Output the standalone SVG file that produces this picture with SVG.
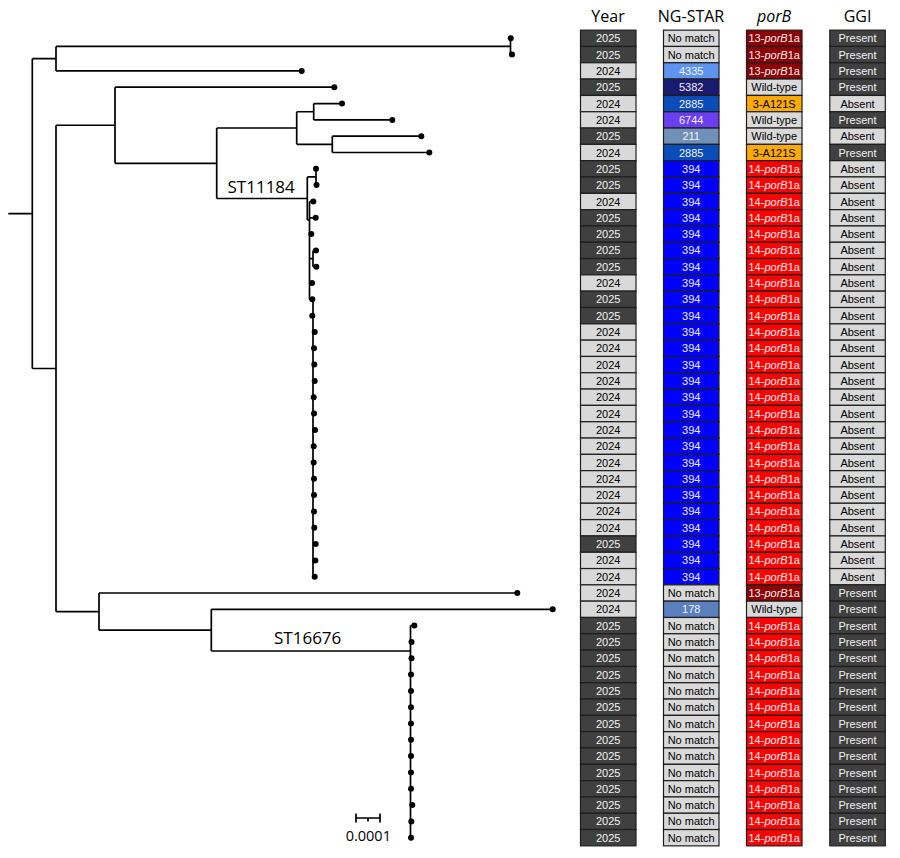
<svg xmlns="http://www.w3.org/2000/svg" xmlns:xlink="http://www.w3.org/1999/xlink" width="900" height="858" viewBox="0 0 900 858">
<style>
.bg{fill:#fff}
use{stroke:#1e1e1e;stroke-width:1.2}
.dk{fill:#404040}.lt{fill:#d9d9d9}
.s394{fill:#0000ff}.s4335{fill:#5e94f0}.s5382{fill:#1a1a70}.s2885{fill:#0a4cb8}.s6744{fill:#6b3ef0}.s211{fill:#7090b8}.s178{fill:#5b80c0}
.p13{fill:#8c0000}.p14{fill:#ff0000}.p3{fill:#ffaa00}
.t{font-family:"Liberation Sans",Arial,sans-serif;font-size:11px;text-anchor:middle}
.w{fill:#f2f2f2}.b{fill:#000}.i{font-style:italic}
.h{font-family:"Open Sans","Liberation Sans",sans-serif;font-size:16px;text-anchor:middle;fill:#000}
.lab{font-family:"Open Sans","Liberation Sans",sans-serif;font-size:17px;fill:#000}
.sc{font-family:"Open Sans","Liberation Sans",sans-serif;font-size:14.5px;fill:#000;text-anchor:middle}
.tree{fill:none;stroke:#000;stroke-width:1.7}
.dots circle{fill:#000}
</style>
<defs>
<rect id="cY" x="580.5" y="-8.15" width="55.5" height="16.3"/>
<rect id="cN" x="663.5" y="-8.15" width="55.5" height="16.3"/>
<rect id="cP" x="746.5" y="-8.15" width="55.5" height="16.3"/>
<rect id="cG" x="829.8" y="-8.15" width="55.5" height="16.3"/>
</defs>
<rect class="bg" x="0" y="0" width="900" height="858"/>

<g id="headers">
<text class="h" x="608" y="21.7">Year</text>
<text class="h" x="691" y="21.7">NG-STAR</text>
<text class="h i" x="774" y="21.7">porB</text>
<text class="h" x="857.5" y="21.7">GGI</text>
</g>

<g id="connectors" class="tree">
<path d="M8.3 213.6H32.3M32.3 58.7V368.5M32.3 58.7H56M32.3 368.5H56"/>
<path d="M56 46.45V70.9M56 46.45H510.5M56 70.9H301.7M510.5 38.3V54.6"/>
<path d="M56 125.25V611.65M56 125.25H115M56 611.65H99"/>
<path d="M115 87.2V163.3M115 87.2H334.3M115 163.3H216.7"/>
<path d="M216.7 128V198.5M216.7 128H296.7M216.7 198.5H307.3"/>
<path d="M296.7 111.75V144.35M296.7 111.75H313.7M296.7 144.35H332.3"/>
<path d="M313.7 103.6V119.9M313.7 103.6H342M313.7 119.9H392.3"/>
<path d="M332.3 136.2V152.5M332.3 136.2H421.3M332.3 152.5H429.3"/>
<path d="M307.3 176.95V220M307.3 176.95H316M316 168.8V185.1M307.3 220H309.5"/>
<path d="M309.5 201.5V299.3M309.5 201.5H313.3M309.5 217.8H315.7M309.5 234.1H311.3M309.5 258.55H313M313 250.4V266.7M313 250.4H316M313 266.7H316.3M309.5 283H312M309.5 299.3H313"/>
<path d="M313 299.3V576.7M313 315.7H312.3M313 544.1H315.7M313 560.4H315.3"/>
<path d="M99 593V630.15M99 593H517.3M99 630.15H211.3"/>
<path d="M211.3 609.3V651M211.3 609.3H552.7M211.3 651H410.5"/>
<path d="M410.5 625.6V837.7M410.5 625.6H414.3"/>
<path d="M356 818H380M356 813.5V822.5M380 813.5V822.5M368 818V821.5"/>
</g>

<g id="leaves" class="dots">
<circle cx="510.7" cy="38.3" r="3"/><circle cx="512" cy="54.6" r="3"/><circle cx="301.7" cy="70.9" r="3"/><circle cx="334.3" cy="87.2" r="3"/>
<circle cx="342" cy="103.6" r="3"/><circle cx="392.3" cy="119.9" r="3"/><circle cx="421.3" cy="136.2" r="3"/><circle cx="429.3" cy="152.5" r="3"/>
<circle cx="316" cy="168.8" r="3"/><circle cx="316.5" cy="185.1" r="3"/><circle cx="313.3" cy="201.5" r="3"/><circle cx="315.7" cy="217.8" r="3"/>
<circle cx="311.3" cy="234.1" r="3"/><circle cx="316" cy="250.4" r="3"/><circle cx="316.3" cy="266.7" r="3"/><circle cx="312" cy="283" r="3"/>
<circle cx="312.3" cy="299.3" r="3"/><circle cx="312.3" cy="315.7" r="3"/><circle cx="314.7" cy="332" r="3"/><circle cx="314" cy="348.3" r="3"/>
<circle cx="314.3" cy="364.6" r="3"/><circle cx="314.7" cy="380.9" r="3"/><circle cx="313.7" cy="397.2" r="3"/><circle cx="314" cy="413.5" r="3"/>
<circle cx="315" cy="429.9" r="3"/><circle cx="313.7" cy="446.2" r="3"/><circle cx="313.7" cy="462.5" r="3"/><circle cx="314" cy="478.8" r="3"/>
<circle cx="314" cy="495.1" r="3"/><circle cx="314" cy="511.4" r="3"/><circle cx="314.3" cy="527.8" r="3"/><circle cx="315.7" cy="544.1" r="3"/>
<circle cx="315.3" cy="560.4" r="3"/><circle cx="314.7" cy="576.7" r="3"/><circle cx="517.3" cy="593" r="3"/><circle cx="552.7" cy="609.3" r="3"/>
<circle cx="414.3" cy="625.6" r="3"/><circle cx="411.5" cy="641.9" r="3"/><circle cx="411.5" cy="658.3" r="3"/><circle cx="411" cy="674.6" r="3"/>
<circle cx="411" cy="690.9" r="3"/><circle cx="411" cy="707.2" r="3"/><circle cx="411" cy="723.5" r="3"/><circle cx="411" cy="739.8" r="3"/>
<circle cx="411" cy="756.1" r="3"/><circle cx="411" cy="772.5" r="3"/><circle cx="411" cy="788.8" r="3"/><circle cx="412.3" cy="805.1" r="3"/>
<circle cx="411.3" cy="821.4" r="3"/><circle cx="411" cy="837.7" r="3"/>
</g>

<g id="clade-labels">
<text class="lab" x="227.5" y="192.5">ST11184</text>
<text class="lab" x="274" y="644">ST16676</text>
</g>
<g id="scale-bar">
<text class="sc" x="368.3" y="840.5">0.0001</text>
</g>

<g id="table">
<g id="row1" transform="translate(0 38.3)"><use href="#cY" class="dk"/><text class="t w" x="608.2" y="4">2025</text><use href="#cN" class="lt"/><text class="t b" x="691.2" y="4">No match</text><use href="#cP" class="p13"/><text class="t w" x="774.2" y="4">13-<tspan class="i">porB</tspan>1a</text><use href="#cG" class="dk"/><text class="t w" x="857.5" y="4">Present</text></g>
<g id="row2" transform="translate(0 54.6)"><use href="#cY" class="dk"/><text class="t w" x="608.2" y="4">2025</text><use href="#cN" class="lt"/><text class="t b" x="691.2" y="4">No match</text><use href="#cP" class="p13"/><text class="t w" x="774.2" y="4">13-<tspan class="i">porB</tspan>1a</text><use href="#cG" class="dk"/><text class="t w" x="857.5" y="4">Present</text></g>
<g id="row3" transform="translate(0 70.9)"><use href="#cY" class="lt"/><text class="t b" x="608.2" y="4">2024</text><use href="#cN" class="s4335"/><text class="t w" x="691.2" y="4">4335</text><use href="#cP" class="p13"/><text class="t w" x="774.2" y="4">13-<tspan class="i">porB</tspan>1a</text><use href="#cG" class="dk"/><text class="t w" x="857.5" y="4">Present</text></g>
<g id="row4" transform="translate(0 87.2)"><use href="#cY" class="dk"/><text class="t w" x="608.2" y="4">2025</text><use href="#cN" class="s5382"/><text class="t w" x="691.2" y="4">5382</text><use href="#cP" class="lt"/><text class="t b" x="774.2" y="4">Wild-type</text><use href="#cG" class="dk"/><text class="t w" x="857.5" y="4">Present</text></g>
<g id="row5" transform="translate(0 103.6)"><use href="#cY" class="lt"/><text class="t b" x="608.2" y="4">2024</text><use href="#cN" class="s2885"/><text class="t w" x="691.2" y="4">2885</text><use href="#cP" class="p3"/><text class="t b" x="774.2" y="4">3-A121S</text><use href="#cG" class="lt"/><text class="t b" x="857.5" y="4">Absent</text></g>
<g id="row6" transform="translate(0 119.9)"><use href="#cY" class="lt"/><text class="t b" x="608.2" y="4">2024</text><use href="#cN" class="s6744"/><text class="t w" x="691.2" y="4">6744</text><use href="#cP" class="lt"/><text class="t b" x="774.2" y="4">Wild-type</text><use href="#cG" class="dk"/><text class="t w" x="857.5" y="4">Present</text></g>
<g id="row7" transform="translate(0 136.2)"><use href="#cY" class="dk"/><text class="t w" x="608.2" y="4">2025</text><use href="#cN" class="s211"/><text class="t w" x="691.2" y="4">211</text><use href="#cP" class="lt"/><text class="t b" x="774.2" y="4">Wild-type</text><use href="#cG" class="lt"/><text class="t b" x="857.5" y="4">Absent</text></g>
<g id="row8" transform="translate(0 152.5)"><use href="#cY" class="lt"/><text class="t b" x="608.2" y="4">2024</text><use href="#cN" class="s2885"/><text class="t w" x="691.2" y="4">2885</text><use href="#cP" class="p3"/><text class="t b" x="774.2" y="4">3-A121S</text><use href="#cG" class="dk"/><text class="t w" x="857.5" y="4">Present</text></g>
<g id="row9" transform="translate(0 168.8)"><use href="#cY" class="dk"/><text class="t w" x="608.2" y="4">2025</text><use href="#cN" class="s394"/><text class="t w" x="691.2" y="4">394</text><use href="#cP" class="p14"/><text class="t w" x="774.2" y="4">14-<tspan class="i">porB</tspan>1a</text><use href="#cG" class="lt"/><text class="t b" x="857.5" y="4">Absent</text></g>
<g id="row10" transform="translate(0 185.1)"><use href="#cY" class="dk"/><text class="t w" x="608.2" y="4">2025</text><use href="#cN" class="s394"/><text class="t w" x="691.2" y="4">394</text><use href="#cP" class="p14"/><text class="t w" x="774.2" y="4">14-<tspan class="i">porB</tspan>1a</text><use href="#cG" class="lt"/><text class="t b" x="857.5" y="4">Absent</text></g>
<g id="row11" transform="translate(0 201.5)"><use href="#cY" class="lt"/><text class="t b" x="608.2" y="4">2024</text><use href="#cN" class="s394"/><text class="t w" x="691.2" y="4">394</text><use href="#cP" class="p14"/><text class="t w" x="774.2" y="4">14-<tspan class="i">porB</tspan>1a</text><use href="#cG" class="lt"/><text class="t b" x="857.5" y="4">Absent</text></g>
<g id="row12" transform="translate(0 217.8)"><use href="#cY" class="dk"/><text class="t w" x="608.2" y="4">2025</text><use href="#cN" class="s394"/><text class="t w" x="691.2" y="4">394</text><use href="#cP" class="p14"/><text class="t w" x="774.2" y="4">14-<tspan class="i">porB</tspan>1a</text><use href="#cG" class="lt"/><text class="t b" x="857.5" y="4">Absent</text></g>
<g id="row13" transform="translate(0 234.1)"><use href="#cY" class="dk"/><text class="t w" x="608.2" y="4">2025</text><use href="#cN" class="s394"/><text class="t w" x="691.2" y="4">394</text><use href="#cP" class="p14"/><text class="t w" x="774.2" y="4">14-<tspan class="i">porB</tspan>1a</text><use href="#cG" class="lt"/><text class="t b" x="857.5" y="4">Absent</text></g>
<g id="row14" transform="translate(0 250.4)"><use href="#cY" class="dk"/><text class="t w" x="608.2" y="4">2025</text><use href="#cN" class="s394"/><text class="t w" x="691.2" y="4">394</text><use href="#cP" class="p14"/><text class="t w" x="774.2" y="4">14-<tspan class="i">porB</tspan>1a</text><use href="#cG" class="lt"/><text class="t b" x="857.5" y="4">Absent</text></g>
<g id="row15" transform="translate(0 266.7)"><use href="#cY" class="dk"/><text class="t w" x="608.2" y="4">2025</text><use href="#cN" class="s394"/><text class="t w" x="691.2" y="4">394</text><use href="#cP" class="p14"/><text class="t w" x="774.2" y="4">14-<tspan class="i">porB</tspan>1a</text><use href="#cG" class="lt"/><text class="t b" x="857.5" y="4">Absent</text></g>
<g id="row16" transform="translate(0 283)"><use href="#cY" class="lt"/><text class="t b" x="608.2" y="4">2024</text><use href="#cN" class="s394"/><text class="t w" x="691.2" y="4">394</text><use href="#cP" class="p14"/><text class="t w" x="774.2" y="4">14-<tspan class="i">porB</tspan>1a</text><use href="#cG" class="lt"/><text class="t b" x="857.5" y="4">Absent</text></g>
<g id="row17" transform="translate(0 299.3)"><use href="#cY" class="dk"/><text class="t w" x="608.2" y="4">2025</text><use href="#cN" class="s394"/><text class="t w" x="691.2" y="4">394</text><use href="#cP" class="p14"/><text class="t w" x="774.2" y="4">14-<tspan class="i">porB</tspan>1a</text><use href="#cG" class="lt"/><text class="t b" x="857.5" y="4">Absent</text></g>
<g id="row18" transform="translate(0 315.7)"><use href="#cY" class="dk"/><text class="t w" x="608.2" y="4">2025</text><use href="#cN" class="s394"/><text class="t w" x="691.2" y="4">394</text><use href="#cP" class="p14"/><text class="t w" x="774.2" y="4">14-<tspan class="i">porB</tspan>1a</text><use href="#cG" class="lt"/><text class="t b" x="857.5" y="4">Absent</text></g>
<g id="row19" transform="translate(0 332)"><use href="#cY" class="lt"/><text class="t b" x="608.2" y="4">2024</text><use href="#cN" class="s394"/><text class="t w" x="691.2" y="4">394</text><use href="#cP" class="p14"/><text class="t w" x="774.2" y="4">14-<tspan class="i">porB</tspan>1a</text><use href="#cG" class="lt"/><text class="t b" x="857.5" y="4">Absent</text></g>
<g id="row20" transform="translate(0 348.3)"><use href="#cY" class="lt"/><text class="t b" x="608.2" y="4">2024</text><use href="#cN" class="s394"/><text class="t w" x="691.2" y="4">394</text><use href="#cP" class="p14"/><text class="t w" x="774.2" y="4">14-<tspan class="i">porB</tspan>1a</text><use href="#cG" class="lt"/><text class="t b" x="857.5" y="4">Absent</text></g>
<g id="row21" transform="translate(0 364.6)"><use href="#cY" class="lt"/><text class="t b" x="608.2" y="4">2024</text><use href="#cN" class="s394"/><text class="t w" x="691.2" y="4">394</text><use href="#cP" class="p14"/><text class="t w" x="774.2" y="4">14-<tspan class="i">porB</tspan>1a</text><use href="#cG" class="lt"/><text class="t b" x="857.5" y="4">Absent</text></g>
<g id="row22" transform="translate(0 380.9)"><use href="#cY" class="lt"/><text class="t b" x="608.2" y="4">2024</text><use href="#cN" class="s394"/><text class="t w" x="691.2" y="4">394</text><use href="#cP" class="p14"/><text class="t w" x="774.2" y="4">14-<tspan class="i">porB</tspan>1a</text><use href="#cG" class="lt"/><text class="t b" x="857.5" y="4">Absent</text></g>
<g id="row23" transform="translate(0 397.2)"><use href="#cY" class="lt"/><text class="t b" x="608.2" y="4">2024</text><use href="#cN" class="s394"/><text class="t w" x="691.2" y="4">394</text><use href="#cP" class="p14"/><text class="t w" x="774.2" y="4">14-<tspan class="i">porB</tspan>1a</text><use href="#cG" class="lt"/><text class="t b" x="857.5" y="4">Absent</text></g>
<g id="row24" transform="translate(0 413.5)"><use href="#cY" class="lt"/><text class="t b" x="608.2" y="4">2024</text><use href="#cN" class="s394"/><text class="t w" x="691.2" y="4">394</text><use href="#cP" class="p14"/><text class="t w" x="774.2" y="4">14-<tspan class="i">porB</tspan>1a</text><use href="#cG" class="lt"/><text class="t b" x="857.5" y="4">Absent</text></g>
<g id="row25" transform="translate(0 429.9)"><use href="#cY" class="lt"/><text class="t b" x="608.2" y="4">2024</text><use href="#cN" class="s394"/><text class="t w" x="691.2" y="4">394</text><use href="#cP" class="p14"/><text class="t w" x="774.2" y="4">14-<tspan class="i">porB</tspan>1a</text><use href="#cG" class="lt"/><text class="t b" x="857.5" y="4">Absent</text></g>
<g id="row26" transform="translate(0 446.2)"><use href="#cY" class="lt"/><text class="t b" x="608.2" y="4">2024</text><use href="#cN" class="s394"/><text class="t w" x="691.2" y="4">394</text><use href="#cP" class="p14"/><text class="t w" x="774.2" y="4">14-<tspan class="i">porB</tspan>1a</text><use href="#cG" class="lt"/><text class="t b" x="857.5" y="4">Absent</text></g>
<g id="row27" transform="translate(0 462.5)"><use href="#cY" class="lt"/><text class="t b" x="608.2" y="4">2024</text><use href="#cN" class="s394"/><text class="t w" x="691.2" y="4">394</text><use href="#cP" class="p14"/><text class="t w" x="774.2" y="4">14-<tspan class="i">porB</tspan>1a</text><use href="#cG" class="lt"/><text class="t b" x="857.5" y="4">Absent</text></g>
<g id="row28" transform="translate(0 478.8)"><use href="#cY" class="lt"/><text class="t b" x="608.2" y="4">2024</text><use href="#cN" class="s394"/><text class="t w" x="691.2" y="4">394</text><use href="#cP" class="p14"/><text class="t w" x="774.2" y="4">14-<tspan class="i">porB</tspan>1a</text><use href="#cG" class="lt"/><text class="t b" x="857.5" y="4">Absent</text></g>
<g id="row29" transform="translate(0 495.1)"><use href="#cY" class="lt"/><text class="t b" x="608.2" y="4">2024</text><use href="#cN" class="s394"/><text class="t w" x="691.2" y="4">394</text><use href="#cP" class="p14"/><text class="t w" x="774.2" y="4">14-<tspan class="i">porB</tspan>1a</text><use href="#cG" class="lt"/><text class="t b" x="857.5" y="4">Absent</text></g>
<g id="row30" transform="translate(0 511.4)"><use href="#cY" class="lt"/><text class="t b" x="608.2" y="4">2024</text><use href="#cN" class="s394"/><text class="t w" x="691.2" y="4">394</text><use href="#cP" class="p14"/><text class="t w" x="774.2" y="4">14-<tspan class="i">porB</tspan>1a</text><use href="#cG" class="lt"/><text class="t b" x="857.5" y="4">Absent</text></g>
<g id="row31" transform="translate(0 527.8)"><use href="#cY" class="lt"/><text class="t b" x="608.2" y="4">2024</text><use href="#cN" class="s394"/><text class="t w" x="691.2" y="4">394</text><use href="#cP" class="p14"/><text class="t w" x="774.2" y="4">14-<tspan class="i">porB</tspan>1a</text><use href="#cG" class="lt"/><text class="t b" x="857.5" y="4">Absent</text></g>
<g id="row32" transform="translate(0 544.1)"><use href="#cY" class="dk"/><text class="t w" x="608.2" y="4">2025</text><use href="#cN" class="s394"/><text class="t w" x="691.2" y="4">394</text><use href="#cP" class="p14"/><text class="t w" x="774.2" y="4">14-<tspan class="i">porB</tspan>1a</text><use href="#cG" class="lt"/><text class="t b" x="857.5" y="4">Absent</text></g>
<g id="row33" transform="translate(0 560.4)"><use href="#cY" class="lt"/><text class="t b" x="608.2" y="4">2024</text><use href="#cN" class="s394"/><text class="t w" x="691.2" y="4">394</text><use href="#cP" class="p14"/><text class="t w" x="774.2" y="4">14-<tspan class="i">porB</tspan>1a</text><use href="#cG" class="lt"/><text class="t b" x="857.5" y="4">Absent</text></g>
<g id="row34" transform="translate(0 576.7)"><use href="#cY" class="lt"/><text class="t b" x="608.2" y="4">2024</text><use href="#cN" class="s394"/><text class="t w" x="691.2" y="4">394</text><use href="#cP" class="p14"/><text class="t w" x="774.2" y="4">14-<tspan class="i">porB</tspan>1a</text><use href="#cG" class="lt"/><text class="t b" x="857.5" y="4">Absent</text></g>
<g id="row35" transform="translate(0 593)"><use href="#cY" class="lt"/><text class="t b" x="608.2" y="4">2024</text><use href="#cN" class="lt"/><text class="t b" x="691.2" y="4">No match</text><use href="#cP" class="p13"/><text class="t w" x="774.2" y="4">13-<tspan class="i">porB</tspan>1a</text><use href="#cG" class="dk"/><text class="t w" x="857.5" y="4">Present</text></g>
<g id="row36" transform="translate(0 609.3)"><use href="#cY" class="lt"/><text class="t b" x="608.2" y="4">2024</text><use href="#cN" class="s178"/><text class="t w" x="691.2" y="4">178</text><use href="#cP" class="lt"/><text class="t b" x="774.2" y="4">Wild-type</text><use href="#cG" class="dk"/><text class="t w" x="857.5" y="4">Present</text></g>
<g id="row37" transform="translate(0 625.6)"><use href="#cY" class="dk"/><text class="t w" x="608.2" y="4">2025</text><use href="#cN" class="lt"/><text class="t b" x="691.2" y="4">No match</text><use href="#cP" class="p14"/><text class="t w" x="774.2" y="4">14-<tspan class="i">porB</tspan>1a</text><use href="#cG" class="dk"/><text class="t w" x="857.5" y="4">Present</text></g>
<g id="row38" transform="translate(0 641.9)"><use href="#cY" class="dk"/><text class="t w" x="608.2" y="4">2025</text><use href="#cN" class="lt"/><text class="t b" x="691.2" y="4">No match</text><use href="#cP" class="p14"/><text class="t w" x="774.2" y="4">14-<tspan class="i">porB</tspan>1a</text><use href="#cG" class="dk"/><text class="t w" x="857.5" y="4">Present</text></g>
<g id="row39" transform="translate(0 658.3)"><use href="#cY" class="dk"/><text class="t w" x="608.2" y="4">2025</text><use href="#cN" class="lt"/><text class="t b" x="691.2" y="4">No match</text><use href="#cP" class="p14"/><text class="t w" x="774.2" y="4">14-<tspan class="i">porB</tspan>1a</text><use href="#cG" class="dk"/><text class="t w" x="857.5" y="4">Present</text></g>
<g id="row40" transform="translate(0 674.6)"><use href="#cY" class="dk"/><text class="t w" x="608.2" y="4">2025</text><use href="#cN" class="lt"/><text class="t b" x="691.2" y="4">No match</text><use href="#cP" class="p14"/><text class="t w" x="774.2" y="4">14-<tspan class="i">porB</tspan>1a</text><use href="#cG" class="dk"/><text class="t w" x="857.5" y="4">Present</text></g>
<g id="row41" transform="translate(0 690.9)"><use href="#cY" class="dk"/><text class="t w" x="608.2" y="4">2025</text><use href="#cN" class="lt"/><text class="t b" x="691.2" y="4">No match</text><use href="#cP" class="p14"/><text class="t w" x="774.2" y="4">14-<tspan class="i">porB</tspan>1a</text><use href="#cG" class="dk"/><text class="t w" x="857.5" y="4">Present</text></g>
<g id="row42" transform="translate(0 707.2)"><use href="#cY" class="dk"/><text class="t w" x="608.2" y="4">2025</text><use href="#cN" class="lt"/><text class="t b" x="691.2" y="4">No match</text><use href="#cP" class="p14"/><text class="t w" x="774.2" y="4">14-<tspan class="i">porB</tspan>1a</text><use href="#cG" class="dk"/><text class="t w" x="857.5" y="4">Present</text></g>
<g id="row43" transform="translate(0 723.5)"><use href="#cY" class="dk"/><text class="t w" x="608.2" y="4">2025</text><use href="#cN" class="lt"/><text class="t b" x="691.2" y="4">No match</text><use href="#cP" class="p14"/><text class="t w" x="774.2" y="4">14-<tspan class="i">porB</tspan>1a</text><use href="#cG" class="dk"/><text class="t w" x="857.5" y="4">Present</text></g>
<g id="row44" transform="translate(0 739.8)"><use href="#cY" class="dk"/><text class="t w" x="608.2" y="4">2025</text><use href="#cN" class="lt"/><text class="t b" x="691.2" y="4">No match</text><use href="#cP" class="p14"/><text class="t w" x="774.2" y="4">14-<tspan class="i">porB</tspan>1a</text><use href="#cG" class="dk"/><text class="t w" x="857.5" y="4">Present</text></g>
<g id="row45" transform="translate(0 756.1)"><use href="#cY" class="dk"/><text class="t w" x="608.2" y="4">2025</text><use href="#cN" class="lt"/><text class="t b" x="691.2" y="4">No match</text><use href="#cP" class="p14"/><text class="t w" x="774.2" y="4">14-<tspan class="i">porB</tspan>1a</text><use href="#cG" class="dk"/><text class="t w" x="857.5" y="4">Present</text></g>
<g id="row46" transform="translate(0 772.5)"><use href="#cY" class="dk"/><text class="t w" x="608.2" y="4">2025</text><use href="#cN" class="lt"/><text class="t b" x="691.2" y="4">No match</text><use href="#cP" class="p14"/><text class="t w" x="774.2" y="4">14-<tspan class="i">porB</tspan>1a</text><use href="#cG" class="dk"/><text class="t w" x="857.5" y="4">Present</text></g>
<g id="row47" transform="translate(0 788.8)"><use href="#cY" class="dk"/><text class="t w" x="608.2" y="4">2025</text><use href="#cN" class="lt"/><text class="t b" x="691.2" y="4">No match</text><use href="#cP" class="p14"/><text class="t w" x="774.2" y="4">14-<tspan class="i">porB</tspan>1a</text><use href="#cG" class="dk"/><text class="t w" x="857.5" y="4">Present</text></g>
<g id="row48" transform="translate(0 805.1)"><use href="#cY" class="dk"/><text class="t w" x="608.2" y="4">2025</text><use href="#cN" class="lt"/><text class="t b" x="691.2" y="4">No match</text><use href="#cP" class="p14"/><text class="t w" x="774.2" y="4">14-<tspan class="i">porB</tspan>1a</text><use href="#cG" class="dk"/><text class="t w" x="857.5" y="4">Present</text></g>
<g id="row49" transform="translate(0 821.4)"><use href="#cY" class="dk"/><text class="t w" x="608.2" y="4">2025</text><use href="#cN" class="lt"/><text class="t b" x="691.2" y="4">No match</text><use href="#cP" class="p14"/><text class="t w" x="774.2" y="4">14-<tspan class="i">porB</tspan>1a</text><use href="#cG" class="dk"/><text class="t w" x="857.5" y="4">Present</text></g>
<g id="row50" transform="translate(0 837.7)"><use href="#cY" class="dk"/><text class="t w" x="608.2" y="4">2025</text><use href="#cN" class="lt"/><text class="t b" x="691.2" y="4">No match</text><use href="#cP" class="p14"/><text class="t w" x="774.2" y="4">14-<tspan class="i">porB</tspan>1a</text><use href="#cG" class="dk"/><text class="t w" x="857.5" y="4">Present</text></g>
</g>
</svg>
